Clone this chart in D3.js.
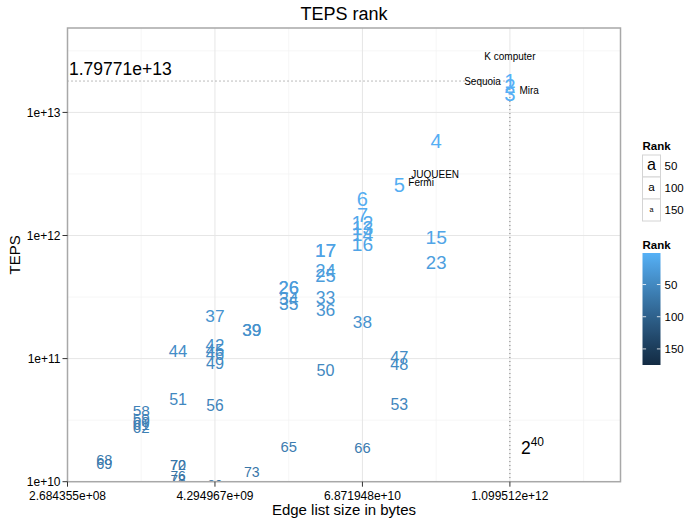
<!DOCTYPE html>
<html>
<head>
<meta charset="utf-8">
<script src="https://cdn.jsdelivr.net/npm/d3@7"></script>
<style>
  body { margin: 0; background: #fff; }
  text { font-family: "Liberation Sans", Arial, Helvetica, sans-serif; }
</style>
</head>
<body>
<div id="chart"></div>
<script>
// Graph500 entries (ties drawn twice)
const ranks    = [1, 2, 3, 4, 5, 6, 7, 12, 13, 14, 15, 16, 17, 17, 23, 24, 25, 26, 26, 33, 34, 35, 36, 37, 38, 39, 39,
                  42, 44, 45, 46, 47, 48, 49, 50, 51, 53, 56, 58, 59, 60, 61, 62, 65, 66, 68, 69, 70, 72, 73, 76, 78, 80, 82, 84];
const edgeLog2 = [40, 40, 40, 38, 37, 36, 36, 36, 36, 36, 38, 36, 35, 35, 38, 35, 35, 34, 34, 35, 34, 34, 35, 32, 36, 33, 33,
                  32, 31, 32, 32, 37, 37, 32, 35, 31, 37, 32, 30, 30, 30, 30, 30, 34, 36, 29, 29, 31, 31, 33, 31, 31, 32, 33, 35];
const teps     = [1.79771e13, 1.6599e13, 1.4328e13, 5.848e12, 2.567e12, 2.0e12, 1.48e12, 1.27e12, 1.14e12, 1.02e12, 9.8e11, 8.45e11, 7.55e11, 7.55e11,
                  6.0e11, 5.19e11, 4.73e11, 3.76e11, 3.76e11, 3.15e11, 3.07e11, 2.8e11, 2.5e11, 2.22e11, 2.0e11, 1.7e11, 1.7e11,
                  1.3e11, 1.156e11, 1.18e11, 1.08e11, 1.02e11, 9.1e10, 9.1e10, 8.0e10, 4.64e10, 4.28e10, 4.15e10,
                  3.78e10, 3.25e10, 3.07e10, 2.91e10, 2.75e10, 1.94e10, 1.9e10, 1.51e10, 1.4e10, 1.375e10, 1.36e10, 1.2e10,
                  1.12e10, 1.057e10, 9.6e9, 8.9e9, 8.8e9];

const systemNames = ['K computer', 'Sequoia', 'Mira', 'JUQUEEN', 'Fermi'];
const systemRanks = [1, 2, 3, 4, 5];

const xTickExp = [28, 32, 36, 40];
const xMinorExp = [30, 34, 38, 42];
const yTicks = [1e10, 1e11, 1e12, 1e13];
const yMinor = [10 ** 10.5, 10 ** 11.5, 10 ** 12.5, 10 ** 13.5];
const legendRanks = [50, 100, 150];
const rankLimits = [1, 175];
const xLimits = [2 ** 28, 2 ** 43];
const yLimits = [1e10, 4.85e13];
const topTeps = 1.79771e13;
const topBytes = 2 ** 40;

const edgeBytes = edgeLog2.map(e => 2 ** e);
const data = ranks.map((r, i) => ({ rank: r, bytes: edgeBytes[i], teps: teps[i] }));

const W = 688, H = 519;
const panel = { left: 67.5, right: 620.5, top: 28, bottom: 481.7 };

const svg = d3.select('#chart').append('svg')
  .attr('width', W).attr('height', H);

const x = d3.scaleLog().base(2).domain(xLimits).range([panel.left, panel.right]);
const y = d3.scaleLog().domain(yLimits).range([panel.bottom, panel.top]);

const colour = d3.scaleLinear().domain(rankLimits).range(['#56B1F7', '#132B43']).interpolate(d3.interpolateLab);
const fontSize = d3.scaleLinear().domain(rankLimits).range([20.5, 5]);

const sci = (v, p) => d3.format('.' + p + 'e')(v).replace(/e([+-])(\d)$/, 'e$10$2');

// grid
const grid = svg.append('g');
grid.selectAll('.xminor').data(xMinorExp).enter().append('line')
  .attr('x1', d => x(2 ** d)).attr('x2', d => x(2 ** d))
  .attr('y1', panel.top).attr('y2', panel.bottom)
  .attr('stroke', '#f2f2f2').attr('stroke-width', 0.7);
grid.selectAll('.yminor').data(yMinor).enter().append('line')
  .attr('x1', panel.left).attr('x2', panel.right)
  .attr('y1', d => y(d)).attr('y2', d => y(d))
  .attr('stroke', '#f2f2f2').attr('stroke-width', 0.7);
grid.selectAll('.xmajor').data(xTickExp).enter().append('line')
  .attr('x1', d => x(2 ** d)).attr('x2', d => x(2 ** d))
  .attr('y1', panel.top).attr('y2', panel.bottom)
  .attr('stroke', '#e6e6e6').attr('stroke-width', 1);
grid.selectAll('.ymajor').data(yTicks).enter().append('line')
  .attr('x1', panel.left).attr('x2', panel.right)
  .attr('y1', d => y(d)).attr('y2', d => y(d))
  .attr('stroke', '#e6e6e6').attr('stroke-width', 1);

svg.append('clipPath').attr('id', 'clip').append('rect')
  .attr('x', panel.left).attr('y', panel.top)
  .attr('width', panel.right - panel.left).attr('height', panel.bottom - panel.top);

const plot = svg.append('g').attr('clip-path', 'url(#clip)');

// dotted guide lines for the top entry
plot.append('line')
  .attr('x1', panel.left).attr('x2', x(topBytes))
  .attr('y1', y(topTeps)).attr('y2', y(topTeps))
  .attr('stroke', '#777').attr('stroke-dasharray', '1,3');
plot.append('line')
  .attr('x1', x(topBytes)).attr('x2', x(topBytes))
  .attr('y1', y(topTeps)).attr('y2', panel.bottom)
  .attr('stroke', '#777').attr('stroke-dasharray', '1,3');

// rank numbers
plot.selectAll('.rank').data(data).enter().append('text')
  .attr('class', 'rank')
  .attr('x', d => x(d.bytes))
  .attr('y', d => y(d.teps))
  .attr('dy', '0.36em')
  .attr('text-anchor', 'middle')
  .attr('font-size', d => fontSize(d.rank))
  .attr('fill', d => colour(d.rank))
  .text(d => d.rank);

// system names
const nudge = {
  'K computer': { dx: 0, dy: -25, anchor: 'middle' },
  'Sequoia': { dx: -9, dy: -3.5, anchor: 'end' },
  'Mira': { dx: 9.5, dy: -3, anchor: 'start' },
  'JUQUEEN': { dx: -1, dy: 33.5, anchor: 'middle' },
  'Fermi': { dx: 9, dy: -3, anchor: 'start' }
};
systemNames.forEach((name, i) => {
  const d = data.find(e => e.rank === systemRanks[i]);
  const n = nudge[name];
  plot.append('text')
    .attr('x', x(d.bytes) + n.dx)
    .attr('y', y(d.teps) + n.dy)
    .attr('dy', '0.36em')
    .attr('text-anchor', n.anchor)
    .attr('font-size', 10)
    .attr('fill', '#000')
    .text(name);
});

// annotations
plot.append('text')
  .attr('x', panel.left + 1.5)
  .attr('y', y(topTeps) - 6)
  .attr('font-size', 17.5)
  .attr('fill', '#000')
  .text(sci(topTeps, 5));

const pow = plot.append('text')
  .attr('x', x(topBytes) + 11)
  .attr('y', y(1.9e10))
  .attr('dy', '0.36em')
  .attr('font-size', 17.5)
  .attr('fill', '#000');
pow.append('tspan').text('2');
pow.append('tspan').attr('font-size', 12).attr('dy', '-0.6em').text('40');

// panel border
svg.append('rect')
  .attr('x', panel.left).attr('y', panel.top)
  .attr('width', panel.right - panel.left).attr('height', panel.bottom - panel.top)
  .attr('fill', 'none').attr('stroke', '#a8a8a8').attr('stroke-width', 1.5);

// axes
const xAxis = svg.append('g');
xAxis.selectAll('line').data(xTickExp).enter().append('line')
  .attr('x1', d => x(2 ** d)).attr('x2', d => x(2 ** d))
  .attr('y1', panel.bottom).attr('y2', panel.bottom + 5)
  .attr('stroke', '#333');
xAxis.selectAll('text').data(xTickExp).enter().append('text')
  .attr('x', d => x(2 ** d)).attr('y', panel.bottom + 18)
  .attr('text-anchor', 'middle').attr('font-size', 12).attr('fill', '#000')
  .text(d => sci(2 ** d, 6));

const yAxis = svg.append('g');
yAxis.selectAll('line').data(yTicks).enter().append('line')
  .attr('x1', panel.left - 5).attr('x2', panel.left)
  .attr('y1', d => y(d)).attr('y2', d => y(d))
  .attr('stroke', '#333');
yAxis.selectAll('text').data(yTicks).enter().append('text')
  .attr('x', panel.left - 7).attr('y', d => y(d))
  .attr('dy', '0.36em')
  .attr('text-anchor', 'end').attr('font-size', 12).attr('fill', '#000')
  .text(d => sci(d, 0));

// titles
svg.append('text')
  .attr('x', (panel.left + panel.right) / 2).attr('y', 20)
  .attr('text-anchor', 'middle').attr('font-size', 18)
  .text('TEPS rank');
svg.append('text')
  .attr('x', (panel.left + panel.right) / 2).attr('y', 515)
  .attr('text-anchor', 'middle').attr('font-size', 15)
  .text('Edge list size in bytes');
svg.append('text')
  .attr('transform', `translate(20,${(panel.top + panel.bottom) / 2}) rotate(-90)`)
  .attr('text-anchor', 'middle').attr('font-size', 15)
  .text('TEPS');

// size legend
const lx = 642.5;
const sizeLegend = svg.append('g');
sizeLegend.append('text')
  .attr('x', lx).attr('y', 150)
  .attr('font-size', 11.5).attr('font-weight', 'bold')
  .text('Rank');
const keyH = 22;
legendRanks.forEach((r, i) => {
  const ky = 155 + i * keyH;
  sizeLegend.append('rect')
    .attr('x', lx).attr('y', ky).attr('width', 18).attr('height', keyH)
    .attr('fill', '#fff').attr('stroke', '#d4d4d4');
  sizeLegend.append('text')
    .attr('x', lx + 9).attr('y', ky + keyH / 2)
    .attr('dy', '0.27em')
    .attr('text-anchor', 'middle').attr('font-size', fontSize(r))
    .text('a');
  sizeLegend.append('text')
    .attr('x', lx + 22).attr('y', ky + keyH / 2)
    .attr('dy', '0.36em').attr('font-size', 11.5)
    .text(r);
});

// colour bar
const bar = { top: 253, bottom: 365, width: 18 };
const barScale = d3.scaleLinear().domain(rankLimits).range([bar.top, bar.bottom]);
const grad = svg.append('defs').append('linearGradient')
  .attr('id', 'rankGrad').attr('x1', 0).attr('x2', 0).attr('y1', 0).attr('y2', 1);
d3.range(0, 1.0001, 0.05).forEach(t => {
  grad.append('stop').attr('offset', t)
    .attr('stop-color', colour(rankLimits[0] + t * (rankLimits[1] - rankLimits[0])));
});
svg.append('text')
  .attr('x', lx).attr('y', 249)
  .attr('font-size', 11.5).attr('font-weight', 'bold')
  .text('Rank');
svg.append('rect')
  .attr('x', lx).attr('y', bar.top).attr('width', bar.width).attr('height', bar.bottom - bar.top)
  .attr('fill', 'url(#rankGrad)');
legendRanks.forEach(r => {
  const ty = barScale(r);
  svg.append('line').attr('x1', lx).attr('x2', lx + 3.6).attr('y1', ty).attr('y2', ty)
    .attr('stroke', '#fff').attr('stroke-opacity', 0.8);
  svg.append('line').attr('x1', lx + bar.width - 3.6).attr('x2', lx + bar.width).attr('y1', ty).attr('y2', ty)
    .attr('stroke', '#fff').attr('stroke-opacity', 0.8);
  svg.append('text')
    .attr('x', lx + 22).attr('y', ty)
    .attr('dy', '0.36em').attr('font-size', 11.5)
    .text(r);
});
</script>
</body>
</html>
